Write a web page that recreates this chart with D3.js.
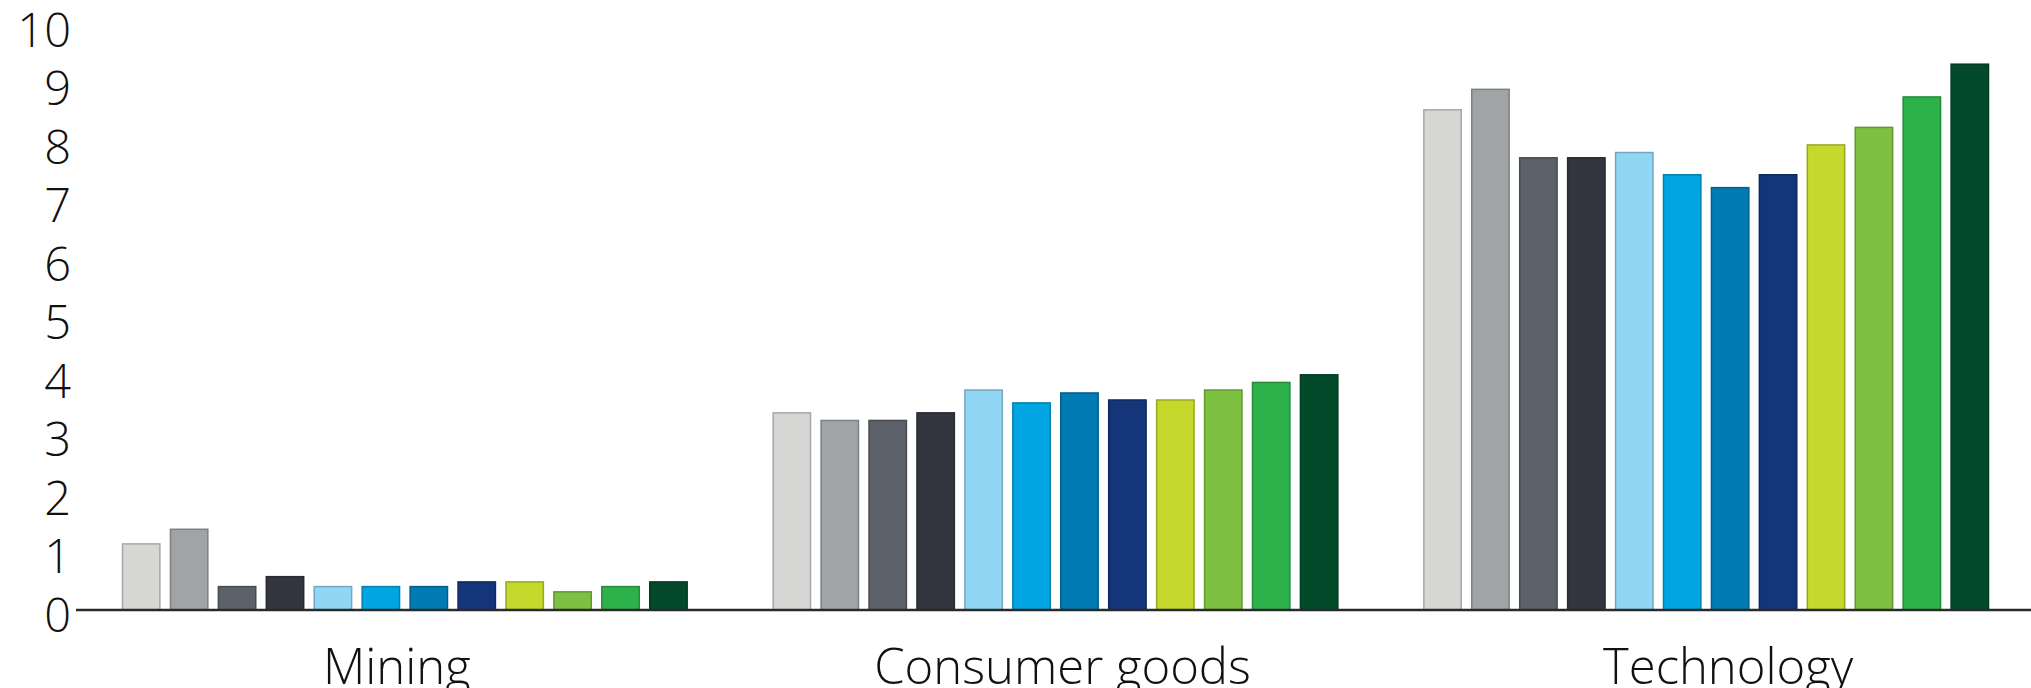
<!DOCTYPE html>
<html>
<head>
<meta charset="utf-8">
<script src="https://cdn.jsdelivr.net/npm/d3@7"></script>
<style>
  html, body { margin: 0; padding: 0; background: #ffffff; }
  svg { display: block; }
  text { font-family: "Open Sans", "Noto Sans", sans-serif; font-weight: 300; fill: #111; }
</style>
</head>
<body>
<svg id="chart" width="2031" height="688"></svg>
<script>
// Sector groups along the x axis
const categories = ["Mining", "Consumer goods", "Technology"];

// Twelve series per sector, in drawing order
const seriesIndex = [0, 1, 2, 3, 4, 5, 6, 7, 8, 9, 10, 11];
const seriesColors = [
  "#d6d6d5", "#a1a4a7", "#5d6169", "#33363f",
  "#92d6f5", "#00a6e2", "#007bb4", "#15357a",
  "#c5d82c", "#7ec142", "#2db14a", "#034a2a"
];

// Values per sector
const miningValues   = [1.13, 1.38, 0.40, 0.57, 0.40, 0.40, 0.40, 0.48, 0.48, 0.31, 0.40, 0.48];
const consumerValues = [3.37, 3.24, 3.24, 3.37, 3.76, 3.54, 3.71, 3.59, 3.59, 3.76, 3.89, 4.02];
const techValues     = [8.55, 8.90, 7.73, 7.73, 7.82, 7.44, 7.22, 7.44, 7.95, 8.25, 8.77, 9.33];

// Y axis ticks
const yTicks = [0, 1, 2, 3, 4, 5, 6, 7, 8, 9, 10];

const valuesByCategory = [miningValues, consumerValues, techValues];
const rows = categories.map((c, i) => ({
  category: c,
  bars: seriesIndex.map(s => ({ s, value: valuesByCategory[i][s] }))
}));

const svg = d3.select("#chart");
const axisLeftX = 76;
const baseY = 610;

const y = d3.scaleLinear().domain([0, 10]).range([baseY, 25]);

// Bar groups
const x0 = d3.scaleBand().domain(categories).range([79.5, 2031.5]).padding(0);
const groupInset = 43;
const x1 = d3.scaleBand()
  .domain(seriesIndex)
  .range([groupInset, x0.bandwidth() - groupInset])
  .paddingInner(0.22)
  .paddingOuter(0);

// Category labels sit on a slightly wider band layout
const xLabel = d3.scaleBand().domain(categories).range([64, 2061]).padding(0);

// Bars
const groups = svg.append("g")
  .selectAll("g")
  .data(rows)
  .join("g")
  .attr("transform", d => `translate(${x0(d.category)},0)`);

groups.selectAll("rect")
  .data(d => d.bars)
  .join("rect")
  .attr("x", d => x1(d.s))
  .attr("width", x1.bandwidth())
  .attr("y", d => y(d.value))
  .attr("height", d => y(0) - y(d.value))
  .attr("fill", d => seriesColors[d.s])
  .attr("stroke", d => d3.color(seriesColors[d.s]).darker(0.7))
  .attr("stroke-width", 1.5);

// Y axis labels
const yAxis = svg.append("g")
  .attr("transform", `translate(${axisLeftX},0)`)
  .call(d3.axisLeft(y).tickValues(yTicks).tickSize(0).tickPadding(5).tickFormat(d3.format("d")));
yAxis.select(".domain").remove();
yAxis.selectAll("text")
  .attr("font-size", 47)
  .attr("dy", "0.45em")
  .style("font-family", "'Open Sans', sans-serif")
  .style("font-weight", 300)
  .attr("fill", "#111");

// X axis with category labels
const xAxis = svg.append("g")
  .attr("transform", `translate(0,${baseY})`)
  .call(d3.axisBottom(xLabel).tickSize(0).tickPadding(39));
xAxis.select(".domain").remove();
xAxis.selectAll("text")
  .attr("font-size", 49)
  .style("font-family", "'Open Sans', sans-serif")
  .style("font-weight", 300)
  .attr("fill", "#111");

// Baseline
svg.append("line")
  .attr("x1", axisLeftX)
  .attr("x2", 2031)
  .attr("y1", y(0))
  .attr("y2", y(0))
  .attr("stroke", "#2a2a2a")
  .attr("stroke-width", 2.5);
</script>
</body>
</html>
